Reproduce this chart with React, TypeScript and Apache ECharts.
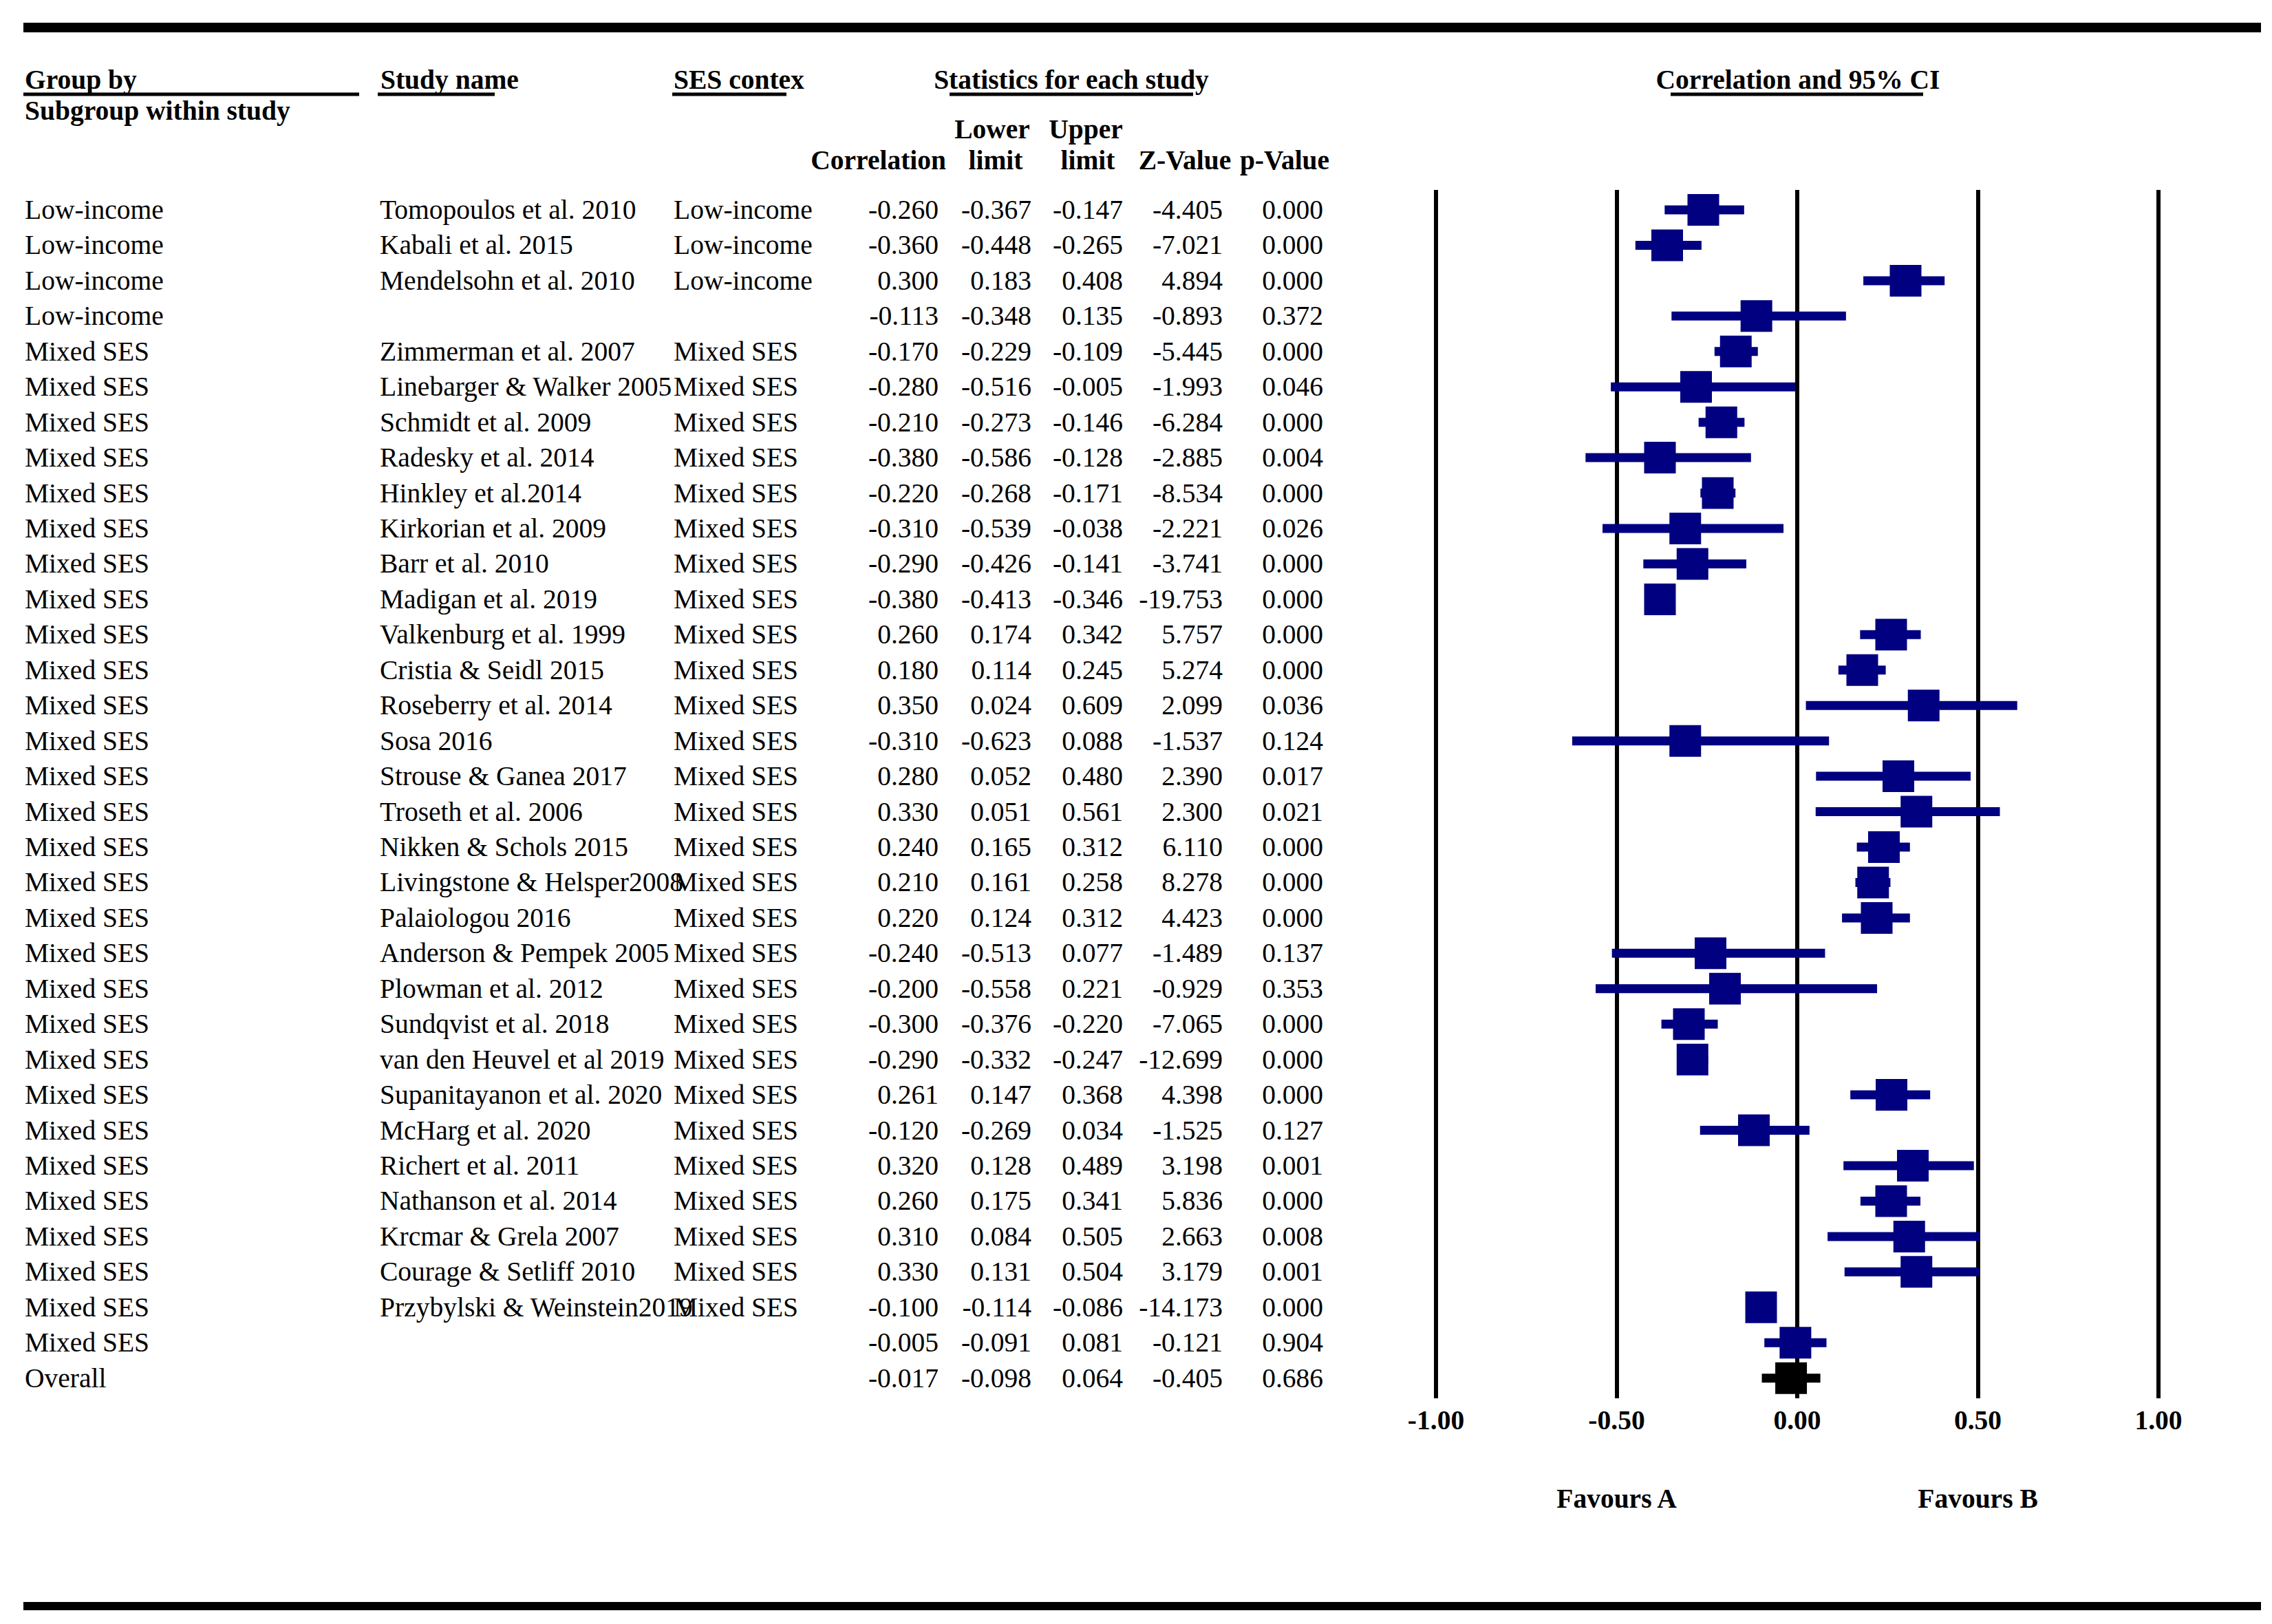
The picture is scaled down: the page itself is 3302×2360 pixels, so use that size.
import React, { useEffect, useRef } from "react";
import * as echarts from "echarts";

// ---- table content, one entry per row (top to bottom) ----
const groupNames: string[] = [
  "Low-income", "Low-income", "Low-income", "Low-income",
  "Mixed SES", "Mixed SES", "Mixed SES", "Mixed SES", "Mixed SES", "Mixed SES",
  "Mixed SES", "Mixed SES", "Mixed SES", "Mixed SES", "Mixed SES", "Mixed SES",
  "Mixed SES", "Mixed SES", "Mixed SES", "Mixed SES", "Mixed SES", "Mixed SES",
  "Mixed SES", "Mixed SES", "Mixed SES", "Mixed SES", "Mixed SES", "Mixed SES",
  "Mixed SES", "Mixed SES", "Mixed SES", "Mixed SES", "Mixed SES", "Overall",
];

const studyNames: string[] = [
  "Tomopoulos et al. 2010", "Kabali et al. 2015", "Mendelsohn et al. 2010", "",
  "Zimmerman et al. 2007", "Linebarger & Walker 2005", "Schmidt et al. 2009",
  "Radesky et al. 2014", "Hinkley et al.2014", "Kirkorian et al. 2009",
  "Barr et al. 2010", "Madigan et al. 2019", "Valkenburg et al. 1999",
  "Cristia & Seidl 2015", "Roseberry et al. 2014", "Sosa 2016",
  "Strouse & Ganea 2017", "Troseth et al. 2006", "Nikken & Schols 2015",
  "Livingstone & Helsper2008", "Palaiologou 2016", "Anderson & Pempek 2005",
  "Plowman et al. 2012", "Sundqvist et al. 2018", "van den Heuvel et al 2019",
  "Supanitayanon et al. 2020", "McHarg et al. 2020", "Richert et al. 2011",
  "Nathanson et al. 2014", "Krcmar & Grela 2007", "Courage & Setliff 2010",
  "Przybylski & Weinstein2019", "", "",
];

const sesContext: string[] = [
  "Low-income", "Low-income", "Low-income", "",
  "Mixed SES", "Mixed SES", "Mixed SES", "Mixed SES", "Mixed SES", "Mixed SES",
  "Mixed SES", "Mixed SES", "Mixed SES", "Mixed SES", "Mixed SES", "Mixed SES",
  "Mixed SES", "Mixed SES", "Mixed SES", "Mixed SES", "Mixed SES", "Mixed SES",
  "Mixed SES", "Mixed SES", "Mixed SES", "Mixed SES", "Mixed SES", "Mixed SES",
  "Mixed SES", "Mixed SES", "Mixed SES", "Mixed SES", "", "",
];

const correlation: number[] = [
  -0.26, -0.36, 0.3, -0.113, -0.17, -0.28, -0.21, -0.38, -0.22, -0.31, -0.29,
  -0.38, 0.26, 0.18, 0.35, -0.31, 0.28, 0.33, 0.24, 0.21, 0.22, -0.24, -0.2,
  -0.3, -0.29, 0.261, -0.12, 0.32, 0.26, 0.31, 0.33, -0.1, -0.005, -0.017,
];

const lowerLimit: number[] = [
  -0.367, -0.448, 0.183, -0.348, -0.229, -0.516, -0.273, -0.586, -0.268, -0.539,
  -0.426, -0.413, 0.174, 0.114, 0.024, -0.623, 0.052, 0.051, 0.165, 0.161, 0.124,
  -0.513, -0.558, -0.376, -0.332, 0.147, -0.269, 0.128, 0.175, 0.084, 0.131,
  -0.114, -0.091, -0.098,
];

const upperLimit: number[] = [
  -0.147, -0.265, 0.408, 0.135, -0.109, -0.005, -0.146, -0.128, -0.171, -0.038,
  -0.141, -0.346, 0.342, 0.245, 0.609, 0.088, 0.48, 0.561, 0.312, 0.258, 0.312,
  0.077, 0.221, -0.22, -0.247, 0.368, 0.034, 0.489, 0.341, 0.505, 0.504, -0.086,
  0.081, 0.064,
];

const zValue: number[] = [
  -4.405, -7.021, 4.894, -0.893, -5.445, -1.993, -6.284, -2.885, -8.534, -2.221,
  -3.741, -19.753, 5.757, 5.274, 2.099, -1.537, 2.39, 2.3, 6.11, 8.278, 4.423,
  -1.489, -0.929, -7.065, -12.699, 4.398, -1.525, 3.198, 5.836, 2.663, 3.179,
  -14.173, -0.121, -0.405,
];

const pValue: number[] = [
  0.0, 0.0, 0.0, 0.372, 0.0, 0.046, 0.0, 0.004, 0.0, 0.026, 0.0, 0.0, 0.0, 0.0,
  0.036, 0.124, 0.017, 0.021, 0.0, 0.0, 0.0, 0.137, 0.353, 0.0, 0.0, 0.0, 0.127,
  0.001, 0.0, 0.008, 0.001, 0.0, 0.904, 0.686,
];

const axisTicks: number[] = [-1, -0.5, 0, 0.5, 1];
const favourLabels: { text: string; at: number }[] = [
  { text: "Favours A", at: -0.5 },
  { text: "Favours B", at: 0.5 },
];

// ---- styling ----
const FONT = '"Liberation Serif", "Times New Roman", serif';
const FS = 39.5;
const NAVY = "#000080";

const W = 3302;
const H = 2360;
const GRID_LEFT = 2087;
const GRID_RIGHT = 3137;
const GRID_TOP = 276;
const GRID_BOTTOM = 2032;
const X_MIN = -1;
const X_MAX = 1;

const xPix = (v: number) =>
  GRID_LEFT + ((v - X_MIN) / (X_MAX - X_MIN)) * (GRID_RIGHT - GRID_LEFT);

const fmt = (v: number) => v.toFixed(3);

function headerText(
  text: string,
  x: number,
  y: number,
  align: "left" | "center" | "right"
) {
  return {
    type: "text",
    x,
    y,
    silent: true,
    style: {
      text,
      fill: "#000",
      fontFamily: FONT,
      fontSize: FS,
      fontWeight: "bold",
      align,
      verticalAlign: "middle",
    },
  };
}

function rule(x1: number, x2: number, y: number, h: number) {
  return {
    type: "rect",
    silent: true,
    shape: { x: x1, y: y - h / 2, width: x2 - x1, height: h },
    style: { fill: "#000" },
  };
}

export default function App() {
  const ref = useRef<HTMLDivElement>(null);

  useEffect(() => {
    if (!ref.current) return;
    const chart = echarts.init(ref.current, null, { renderer: "svg" });

    const rowCount = correlation.length;
    const overallIndex = rowCount - 1;

    const markerData = correlation.map((c, i) => [
      c,
      lowerLimit[i],
      upperLimit[i],
      i,
      i === overallIndex ? 1 : 0,
    ]);
    const tableData = correlation.map((_, i) => [0, i]);

    // columns of the statistics table: [x, align, getter]
    const columns: [number, "left" | "right", (i: number) => string][] = [
      [36, "left", (i) => groupNames[i]],
      [552, "left", (i) => studyNames[i]],
      [979, "left", (i) => sesContext[i]],
      [1364, "right", (i) => fmt(correlation[i])],
      [1499, "right", (i) => fmt(lowerLimit[i])],
      [1632, "right", (i) => fmt(upperLimit[i])],
      [1777, "right", (i) => fmt(zValue[i])],
      [1923, "right", (i) => fmt(pValue[i])],
    ];

    const graphics: any[] = [
      rule(34, 3286, 40, 14),
      rule(34, 3286, 2334, 12),
      headerText("Group by", 36, 116, "left"),
      rule(34, 522, 137, 5),
      headerText("Subgroup within study", 36, 161, "left"),
      headerText("Study name", 553, 116, "left"),
      rule(549, 719, 137, 5),
      headerText("SES contex", 979, 116, "left"),
      rule(977, 1143, 137, 5),
      headerText("Statistics for each study", 1557, 116, "center"),
      rule(1380, 1734, 137, 5),
      headerText("Correlation and 95% CI", 2613, 116, "center"),
      rule(2428, 2795, 137, 5),
      headerText("Lower", 1442, 188, "center"),
      headerText("Upper", 1578, 188, "center"),
      headerText("Correlation", 1375, 233, "right"),
      headerText("limit", 1447, 233, "center"),
      headerText("limit", 1581, 233, "center"),
      headerText("Z-Value", 1722, 233, "center"),
      headerText("p-Value", 1867, 233, "center"),
      ...favourLabels.map((f) => headerText(f.text, xPix(f.at), 2178, "center")),
    ];

    chart.setOption({
      animation: false,
      backgroundColor: "#fff",
      grid: {
        left: GRID_LEFT,
        right: W - GRID_RIGHT,
        top: GRID_TOP,
        bottom: H - GRID_BOTTOM,
        containLabel: false,
      },
      xAxis: {
        type: "value",
        min: X_MIN,
        max: X_MAX,
        interval: 0.5,
        axisLine: { show: false },
        axisTick: { show: false },
        splitLine: { show: true, lineStyle: { color: "#000", width: 6 } },
        axisLabel: {
          show: true,
          margin: 12,
          color: "#000",
          fontFamily: FONT,
          fontSize: FS,
          fontWeight: "bold",
          formatter: (v: number) =>
            axisTicks.indexOf(v) >= 0 ? v.toFixed(2) : "",
        },
      },
      yAxis: {
        type: "value",
        inverse: true,
        min: -0.564,
        max: 33.57,
        show: false,
        splitLine: { show: false },
      },
      graphic: graphics,
      series: [
        {
          type: "custom",
          name: "table",
          clip: false,
          silent: true,
          data: tableData,
          encode: { x: 0, y: 1 },
          renderItem: (params: any, api: any) => {
            const i = params.dataIndex;
            const y = api.coord([0, api.value(1)])[1];
            return {
              type: "group",
              children: columns.map(([x, align, get]) => ({
                type: "text",
                x,
                y,
                style: {
                  text: get(i),
                  fill: "#000",
                  fontFamily: FONT,
                  fontSize: FS,
                  align,
                  verticalAlign: "middle",
                },
              })),
            };
          },
        },
        {
          type: "custom",
          name: "Correlation and 95% CI",
          clip: false,
          silent: true,
          z: 5,
          data: markerData,
          encode: { x: [0, 1, 2], y: 3 },
          renderItem: (_params: any, api: any) => {
            const row = api.value(3);
            const c = api.coord([api.value(0), row]);
            const lo = api.coord([api.value(1), row]);
            const hi = api.coord([api.value(2), row]);
            const color = api.value(4) ? "#000" : NAVY;
            const box = 46;
            const bar = 13;
            return {
              type: "group",
              children: [
                {
                  type: "rect",
                  shape: {
                    x: lo[0],
                    y: c[1] - bar / 2,
                    width: hi[0] - lo[0],
                    height: bar,
                  },
                  style: { fill: color },
                },
                {
                  type: "rect",
                  shape: {
                    x: c[0] - box / 2,
                    y: c[1] - box / 2,
                    width: box,
                    height: box,
                  },
                  style: { fill: color },
                },
              ],
            };
          },
        },
      ],
    });

    return () => chart.dispose();
  }, []);

  return (
    <div
      ref={ref}
      style={{
        position: "absolute",
        left: 0,
        top: 0,
        width: W,
        height: H,
        background: "#fff",
      }}
    />
  );
}
